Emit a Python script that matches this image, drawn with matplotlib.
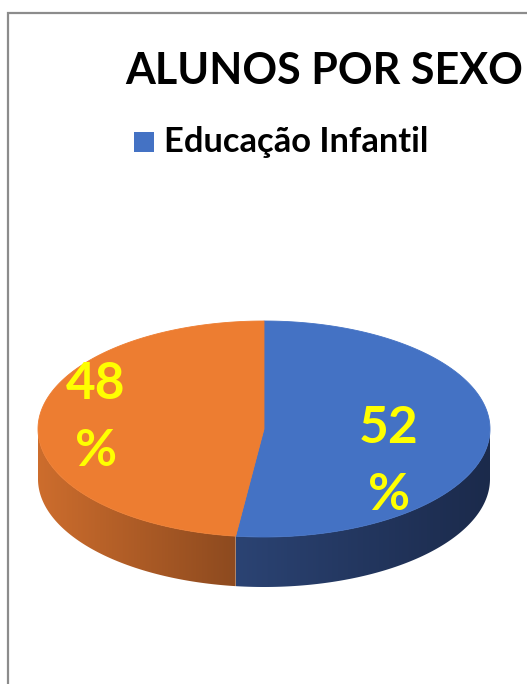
import numpy as np
import matplotlib
matplotlib.use("Agg")
import matplotlib.pyplot as plt
from matplotlib.patches import Polygon
from matplotlib.colors import LinearSegmentedColormap

# ---- data ----
title = "ALUNOS POR SEXO"
legend_label = "Educação Infantil"
categories = ["Masculino", "Feminino"]
values = [52, 48]
labels = ["52\n%", "48\n%"]

# ---- style / layout ----
W, H = 527, 684
top_colors = ["#4472C4", "#ED7D31"]
side_grad = [("#2B4373", "#1B2A4B"), ("#CD6D2D", "#8D4A1F")]
label_pos = [(389, 462), (96, 418)]
cx, cy, rx, ry, depth = 264, 429, 226, 108, 50
FONT = "Lato"

fig = plt.figure(figsize=(W / 100, H / 100), dpi=100)
ax = fig.add_axes([0, 0, 1, 1])
ax.set_xlim(0, W)
ax.set_ylim(H, 0)
ax.axis("off")

# border (chart frame, partially visible)
ax.plot([8, 8, W + 5], [H + 5, 13, 13], color="#8C8C8C", lw=1.6,
        solid_joinstyle="miter", zorder=10)


def ell(phi, dy=0.0):
    phi = np.radians(phi)
    return cx + rx * np.cos(phi), cy - ry * np.sin(phi) + dy


# slice angles: start at 90 deg, clockwise
total = float(sum(values))
spans = [v / total * 360 for v in values]
bounds = []
a = 90.0
for s in spans:
    bounds.append((a - s, a))
    a -= s

# side walls (front half: -180..0 deg)
for (lo, hi), (c0, c1) in zip(bounds, side_grad):
    seg_lo, seg_hi = max(lo, -180.0), min(hi, 0.0)
    if seg_lo >= seg_hi:
        seg_lo, seg_hi = max(lo - 360, -180.0), min(hi - 360, 0.0)
    if seg_lo >= seg_hi:
        continue
    ph = np.linspace(seg_lo, seg_hi, 200)
    xt, yt = ell(ph)
    xb, yb = ell(ph[::-1], depth)
    pts = np.column_stack([np.concatenate([xt, xb]), np.concatenate([yt, yb])])
    poly = Polygon(pts, closed=True, facecolor="none", edgecolor="none")
    ax.add_patch(poly)
    cmap = LinearSegmentedColormap.from_list("g", [c0, c1])
    grad = np.linspace(0, 1, 256).reshape(1, -1)
    im = ax.imshow(grad, cmap=cmap, aspect="auto",
                   extent=[pts[:, 0].min(), pts[:, 0].max(),
                           pts[:, 1].max() + 1, pts[:, 1].min() - 1],
                   zorder=1, interpolation="bilinear")
    im.set_clip_path(poly)

# top faces
for (lo, hi), col in zip(bounds, top_colors):
    ph = np.linspace(lo, hi, 300)
    x, y = ell(ph)
    pts = np.column_stack([np.concatenate([[cx], x]), np.concatenate([[cy], y])])
    ax.add_patch(Polygon(pts, closed=True, facecolor=col, edgecolor=col,
                         lw=0.6, zorder=2))

# data labels
for (lx, ly), t in zip(label_pos, labels):
    ax.text(lx, ly, t, ha="center", va="center", color="#FFFF00",
            fontsize=37, fontweight="bold", family=FONT,
            linespacing=1.55, zorder=5)

# title
ax.text(324, 71, title, ha="center", va="center", fontsize=31,
        fontweight="bold", family=FONT, color="#000000", zorder=5)

# legend
ax.add_patch(plt.Rectangle((134, 132), 20, 20, facecolor=top_colors[0],
                           edgecolor="none", zorder=5))
ax.text(164, 142, legend_label, ha="left", va="center", fontsize=24.8,
        fontweight="bold", family=FONT, color="#000000", zorder=5)

fig.savefig("out.png", dpi=100, facecolor="white")
